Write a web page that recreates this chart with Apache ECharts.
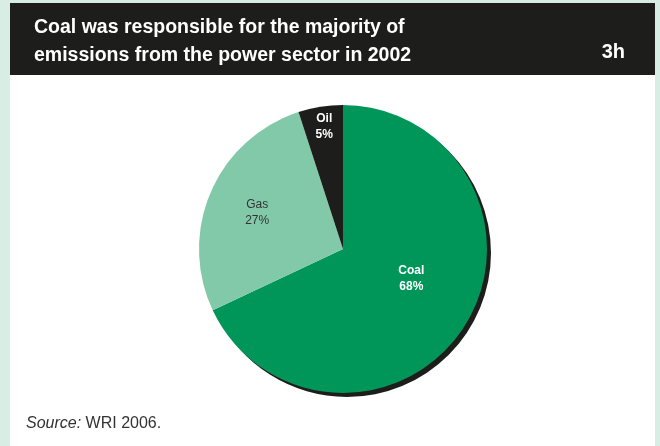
<!DOCTYPE html>
<html><head><meta charset="utf-8">
<script src="https://cdn.jsdelivr.net/npm/echarts@6/dist/echarts.min.js"></script>
<style>html,body{margin:0;padding:0;background:#d8eee5}#c{width:660px;height:446px}</style>
</head><body><div id="c"></div>
<script>
const categories = ['Coal', 'Gas', 'Oil'];
const shares = [68, 27, 5];
const titleLines = ['Coal was responsible for the majority of', 'emissions from the power sector in 2002'];
const figureId = '3h';
const sourceLabel = 'Source:';
const sourceText = ' WRI 2006.';

const colors = {Coal: '#00965a', Gas: '#82c9a9', Oil: '#1d1d1b'};
const labelStyle = {
  Coal: {color: '#ffffff', fontWeight: 'bold', offset: [5, -10]},
  Gas: {color: '#333333', fontWeight: 'normal', offset: [-17, -7]},
  Oil: {color: '#ffffff', fontWeight: 'bold', offset: [-7, -48]}
};

const chart = echarts.init(document.getElementById('c'), null, {renderer: 'canvas'});
const titleFont = '"Liberation Sans", Arial, sans-serif';

chart.setOption({
  animation: false,
  backgroundColor: '#d8eee5',
  graphic: [
    {type: 'rect', z: -10, shape: {x: 10, y: 3, width: 645, height: 443}, style: {fill: '#ffffff'}},
    {type: 'rect', z: -5, shape: {x: 10, y: 3, width: 645, height: 72}, style: {fill: '#1d1d1b'}},
    {type: 'text', left: 34, top: 14, style: {text: titleLines.join('\n'), fill: '#ffffff', font: 'bold 19.5px ' + titleFont, lineHeight: 28}},
    {type: 'text', right: 35, top: 42, style: {text: figureId, fill: '#ffffff', font: 'bold 20px ' + titleFont}},
    {type: 'text', left: 26, top: 416, style: {
      text: '{i|' + sourceLabel + '}{n|' + sourceText + '}',
      rich: {
        i: {fontStyle: 'italic', fontSize: 16, fontFamily: titleFont, fill: '#333333', color: '#333333'},
        n: {fontSize: 16, fontFamily: titleFont, fill: '#333333', color: '#333333'}
      }
    }}
  ],
  series: [{
    type: 'pie',
    center: [343, 249],
    radius: [0, 144],
    startAngle: 90,
    clockwise: true,
    silent: true,
    labelLine: {show: false},
    itemStyle: {borderWidth: 0},
    data: categories.map((c, i) => ({
      name: c,
      value: shares[i],
      itemStyle: Object.assign({color: colors[c]}, c === 'Coal' ? {shadowColor: '#1d1d1b', shadowBlur: 0, shadowOffsetX: 4, shadowOffsetY: 4} : {}),
      label: {
        show: true,
        position: 'inside',
        formatter: '{b}\n{c}%',
        color: labelStyle[c].color,
        fontWeight: labelStyle[c].fontWeight,
        fontSize: 12,
        lineHeight: 16,
        fontFamily: '"Liberation Sans", Arial, sans-serif',
        offset: labelStyle[c].offset
      }
    }))
  }]
});
</script></body></html>
